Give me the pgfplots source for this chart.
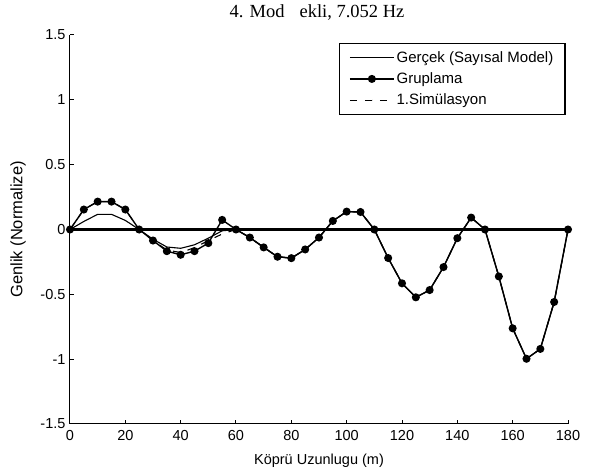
\documentclass[border=0pt]{standalone}
\usepackage{pgfplots}
\pgfplotsset{compat=1.18}
\usepackage{fontspec}
\setmainfont{Liberation Sans}
\newfontfamily\timesf{Liberation Serif}

\pgfplotstableread{
x y
0 0
5 0.154
10 0.215
15 0.215
20 0.154
25 0
30 -0.085
35 -0.167
40 -0.195
45 -0.167
50 -0.105
55 0.074
60 0
65 -0.062
70 -0.138
75 -0.21
80 -0.221
85 -0.154
90 -0.062
95 0.066
100 0.138
105 0.135
110 0
115 -0.22
120 -0.415
125 -0.523
130 -0.467
135 -0.29
140 -0.067
145 0.092
150 0
155 -0.362
160 -0.762
165 -0.997
170 -0.921
175 -0.559
180 0
}\gruplama

\pgfplotstableread{
x y
0 0
5 0.062
10 0.117
15 0.117
20 0.07
25 0
30 -0.075
35 -0.135
40 -0.145
45 -0.118
50 -0.067
55 -0.01
60 0
65 -0.062
70 -0.138
75 -0.21
80 -0.221
85 -0.154
90 -0.062
95 0.066
100 0.138
105 0.135
110 0
115 -0.22
120 -0.415
125 -0.523
130 -0.467
135 -0.29
140 -0.067
145 0.092
150 0
155 -0.362
160 -0.762
165 -0.997
170 -0.921
175 -0.559
180 0
}\gercek

\pgfplotstableread{
x y
0 0
5 0.154
10 0.215
15 0.215
20 0.154
25 0
30 -0.085
35 -0.158
40 -0.178
45 -0.14
50 -0.085
55 -0.035
60 0
65 -0.062
70 -0.138
75 -0.21
80 -0.221
85 -0.154
90 -0.062
95 0.066
100 0.138
105 0.135
110 0
115 -0.22
120 -0.415
125 -0.523
130 -0.467
135 -0.29
140 -0.067
145 0.092
150 0
155 -0.362
160 -0.762
165 -0.997
170 -0.921
175 -0.559
180 0
}\simul

\begin{document}
\begin{tikzpicture}
\begin{axis}[
  at={(0pt,0pt)}, anchor=south west,
  scale only axis, width=498pt, height=389pt,
  xmin=0, xmax=180, ymin=-1.5, ymax=1.5,
  axis x line*=bottom, axis y line*=left,
  axis line style={line width=1pt},
  xtick={0,20,...,180}, ytick={-1.5,-1,-0.5,0,0.5,1,1.5},
  tick align=inside, major tick length=4pt,
  tick style={line width=1pt, black},
  /pgf/number format/assume math mode=true,
  ticklabel style={font=\fontsize{14.5}{17}\selectfont},
  xticklabel style={yshift=-3pt},
  yticklabel style={xshift=-1pt},
  xlabel={Köprü Uzunlugu (m)},
  ylabel={Genlik (Normalize)},
  xlabel style={font=\fontsize{14.5}{17}\selectfont, at={(axis description cs:0.5,-0.0951)}, anchor=center},
  ylabel style={font=\fontsize{16.5}{19}\selectfont, at={(axis description cs:-0.1044,0.5)}, anchor=center},
  title={4. Mod\hspace{15pt}ekli, 7.052 Hz},
  title style={font=\timesf\fontsize{18.5}{21}\selectfont, at={(axis description cs:0.496,1.0308)}, anchor=base},
  legend cell align=left,
  legend style={at={(rel axis cs:0.994,0.979)}, anchor=north east, draw=none, name=leg,
    font=\fontsize{15}{18}\selectfont, inner xsep=9.5pt, inner ysep=6pt, row sep=5pt},
  legend image code/.code={\draw[mark repeat=2,mark phase=2] plot coordinates {(0pt,0pt)(22pt,0pt)(44pt,0pt)};},
]
\addplot[black, line width=1.1pt] table[x=x,y=y] {\gercek};
\addlegendentry{Gerçek (Sayısal Model)}
\addplot[black, line width=1.4pt, mark=*, mark size=3.3pt, mark options={solid}] table[x=x,y=y] {\gruplama};
\addlegendentry{Gruplama}
\addplot[black, line width=1.1pt, dash pattern=on 7pt off 8pt] table[x=x,y=y] {\simul};
\addlegendentry{1.Simülasyon}
\addplot[black, line width=2.4pt, forget plot] coordinates {(0,0) (180,0)};
\end{axis}
\draw[line width=1.2pt] (leg.south west) rectangle (leg.north east);
\pgfresetboundingbox
\useasboundingbox (-70pt,-47pt) rectangle (522pt,424pt);
\end{tikzpicture}
\end{document}
